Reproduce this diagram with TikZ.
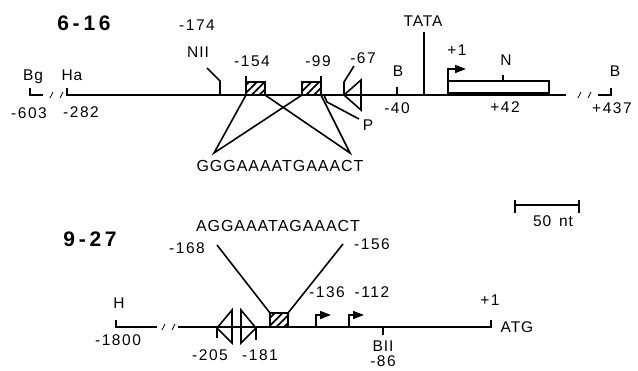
\documentclass[tikz,border=0pt]{standalone}
\usepackage{fontspec}
\setmainfont{Liberation Sans}
\newfontfamily\lblfont[LetterSpace=6]{Liberation Sans}
\newfontfamily\numfont[LetterSpace=10]{Liberation Sans}
\newfontfamily\headfont[LetterSpace=18]{Liberation Sans}
\usetikzlibrary{patterns.meta,arrows.meta}
\begin{document}
\begin{tikzpicture}[x=1pt,y=-1pt,line width=1.6pt,
    lbl/.style={inner sep=0,outer sep=0,font=\fontsize{15.5}{15.5}\lblfont},
    num/.style={inner sep=0,outer sep=0,font=\fontsize{15.5}{15.5}\numfont},
    head/.style={inner sep=0,outer sep=0,font=\fontsize{21}{21}\headfont\bfseries},
    seq/.style={inner sep=0,outer sep=0,font=\fontsize{16}{16}\lblfont},
    site/.style={draw,inner sep=0,outer sep=0,minimum width=19pt,minimum height=13pt,pattern={Lines[angle=45,distance=5.5pt,line width=1.8pt]}},
    brk/.style={line width=0.7pt},
    start/.style={-{Triangle[length=11pt,width=8pt]}}]
  \useasboundingbox (0,0) rectangle (638,370);

  % clone 6-16
  \node[head] (name616) at (84,23) {6-16};
  \coordinate (bg) at (30,95);
  \coordinate (ha) at (67,95);
  \coordinate (rend) at (566,95);
  \coordinate (bb) at (611,95);
  \draw (bg) ++(0,-7) -- (bg) -- ++(13,0);
  \draw[brk] (50,98) -- (53,92) (60,98) -- (63,92);
  \draw (ha) ++(0,-7) -- (ha) -- (rend);
  \draw[brk] (578,98) -- (581,92) (588,98) -- (591,92);
  \draw (bb) ++(-13,0) -- (bb) -- ++(0,-7);
  \node[lbl] (lbg) at (33,77) {Bg};
  \node[lbl] (lha) at (72,75) {Ha};
  \node[num] (l603) at (29,113) {-603};
  \node[num] (l282) at (81,112) {-282};
  \node[lbl] (lbb) at (615,71) {B};
  \node[num] (l437) at (612,108) {+437};

  % NII site
  \node[num] (l174) at (197,25) {-174};
  \node[lbl] (lnii) at (198,52) {NII};
  \draw (207,68) -- (220,81) -- (220,95);

  % repeats and their sequence
  \node[site] (s154) at (255.5,88.5) {};
  \node[site] (s99) at (311.5,88.5) {};
  \draw (s154.north west) -- ++(0,-6);
  \draw (s99.north east) -- ++(0,-6);
  \node[num] (l154) at (252,61) {-154};
  \node[num] (l99) at (318,61) {-99};
  \node[seq] (seqa) at (280,166) {GGGAAAATGAAACT};
  \coordinate (sl) at (214,153);
  \coordinate (sr) at (350,153);
  \draw (s154.south west) -- (sl) -- (s99.south west);
  \draw (s154.south east) -- (sr) -- (s99.south east);
  \node[lbl] (lp) at (368,125) {P};
  \draw (324,95) -- (327,102) -- (359,119);

  % inverted element -67
  \node[num] (l67) at (363,58) {-67};
  \draw[line join=miter] (344,95) -- (361,80) -- (361,110) -- cycle;
  \draw (344,95) -- (344,82) -- (354,66);

  % B site, TATA, start
  \draw (397,95) -- (397,87);
  \node[lbl] (lb) at (398,71) {B};
  \node[num] (l40) at (397,108) {-40};
  \draw (424,95) -- (424,32);
  \node[lbl] (ltata) at (423,21) {TATA};
  \node[draw,inner sep=0,outer sep=0,minimum width=101pt,minimum height=12pt] (nbox) at (498.5,87) {};
  \draw (503,81) -- (503,75);
  \node[lbl] (ln) at (506,60) {N};
  \node[num] (l42) at (505,107) {+42};
  \draw[start] (448,95) -- (448,69) -- (466,69);
  \node[num] (lp1) at (457,50) {+1};

  % scale bar
  \draw (515,205) -- (579,205);
  \draw (515,200) -- (515,213) (579,200) -- (579,213);
  \node[lbl] (lscale) at (553,221) {50\, nt};

  % clone 9-27
  \node[head] (name927) at (90,239) {9-27};
  \coordinate (hh) at (116,327);
  \coordinate (atg) at (491,327);
  \draw (hh) ++(0,-7) -- (hh) -- ++(41,0);
  \draw[brk] (162,330) -- (165,324) (172,330) -- (175,324);
  \draw (178,327) -- (atg) -- ++(0,-7);
  \node[lbl] (lh) at (119,303) {H};
  \node[num] (l1800) at (118,340) {-1800};
  \node[num] (lp1b) at (490,300) {+1};
  \node[lbl] (latg) at (517,327) {ATG};

  % twin elements
  \draw[line join=miter] (217,328) -- (232,310) -- (232,343) -- cycle;
  \draw (217,328) -- (217,338);
  \draw[line join=miter] (256,328) -- (241,310) -- (241,343) -- cycle;
  \draw (256,328) -- (256,340);
  \node[num] (l205) at (210,355) {-205};
  \node[num] (l181) at (260,355) {-181};

  % repeat and its sequence
  \node[site,minimum width=18pt,minimum height=14pt] (s168) at (279,320) {};
  \node[seq] (seqb) at (278,226) {AGGAAATAGAAACT};
  \coordinate (cl) at (217,245);
  \coordinate (cr) at (343,244);
  \draw (s168.north west) -- (cl);
  \draw (s168.north east) -- (cr);
  \node[num] (l168) at (187,248) {-168};
  \node[num] (l156) at (372,244) {-156};

  % starts and BII site
  \draw[start] (316,327) -- (316,315) -- (331,315);
  \draw[start] (349,327) -- (349,315) -- (364,315);
  \node[num] (l136) at (327,292) {-136};
  \node[num] (l112) at (372,292) {-112};
  \draw (383,327) -- (383,335);
  \node[lbl] (lbii) at (383,346) {BII};
  \node[num] (l86) at (383,361) {-86};
\end{tikzpicture}
\end{document}
